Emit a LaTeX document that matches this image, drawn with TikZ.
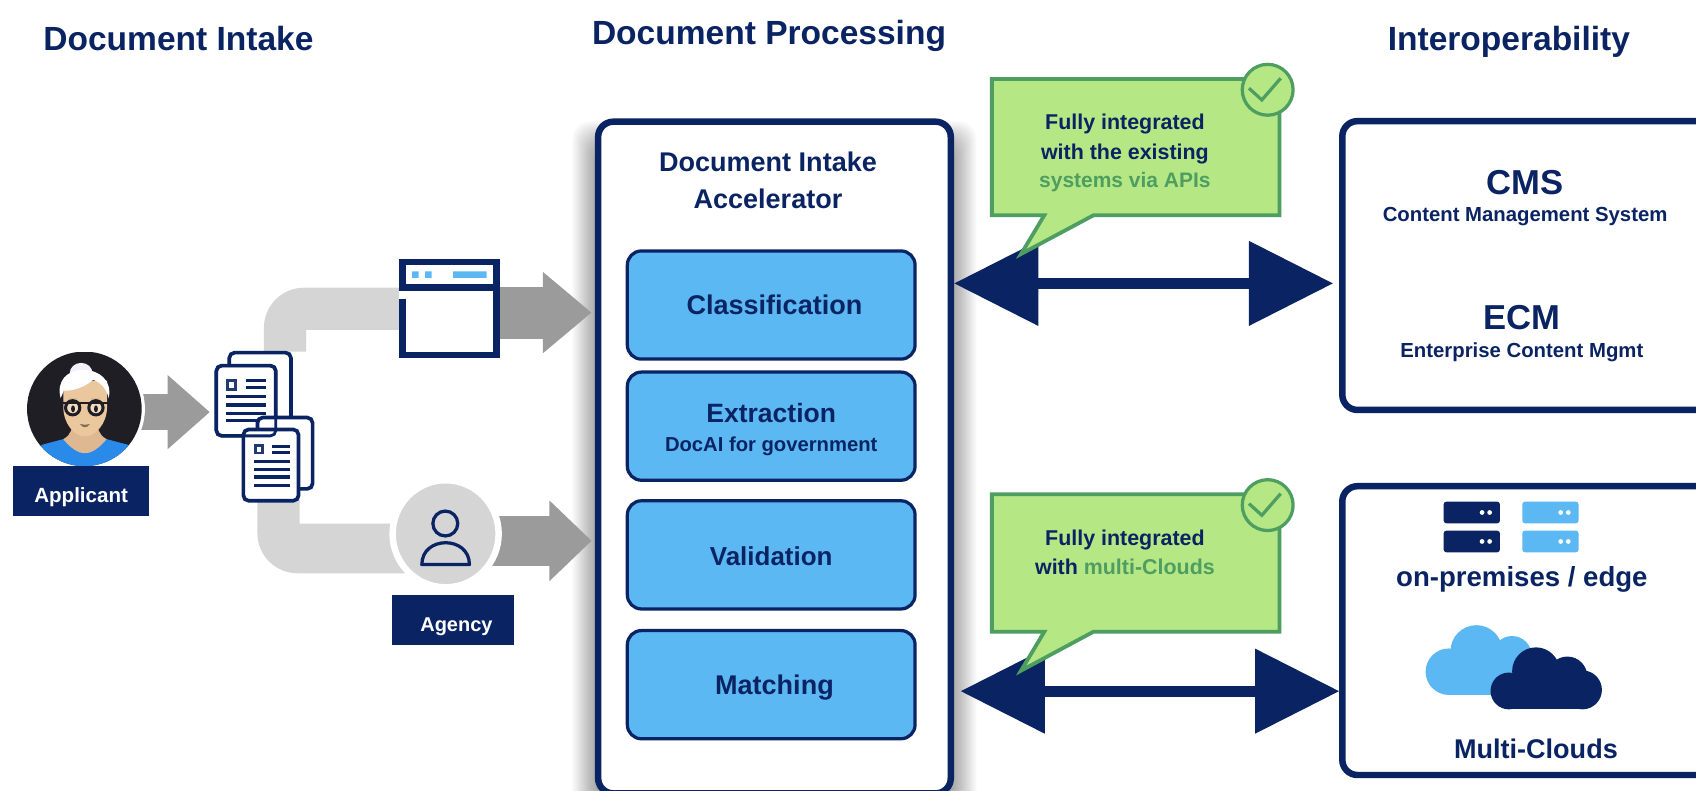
\documentclass[tikz,border=0pt]{standalone}
\usepackage{fontspec}
\setmainfont{Liberation Sans}[BoldFont={Liberation Sans Bold}]
\usetikzlibrary{arrows.meta}
\definecolor{navy}{HTML}{0A2463}
\definecolor{skyb}{HTML}{5BB8F2}
\definecolor{roadg}{HTML}{D5D5D5}
\definecolor{arrowg}{HTML}{9B9B9B}
\definecolor{lime}{HTML}{B5E784}
\definecolor{leaf}{HTML}{4E9E62}
\definecolor{inkdark}{HTML}{1E1E24}
\definecolor{skin}{HTML}{EBC79E}
\definecolor{skindk}{HTML}{DDB890}
\definecolor{shirt}{HTML}{2A8AEA}
\newcommand{\fs}[1]{\fontsize{#1}{#1}\selectfont\bfseries}
\tikzset{
  head/.style={font=\fs{31},text=navy,inner sep=0pt,yshift=-3pt},
  txt/.style={text=navy,inner sep=0pt,align=center,yshift=-2pt},
  panelbox/.style={draw=navy,line width=6pt,rounded corners=14pt,fill=white,minimum width=#1,inner sep=0pt},
  stepbox/.style={draw=navy,line width=3pt,rounded corners=13pt,fill=skyb,minimum width=266pt,minimum height=100pt,inner sep=0pt},
  tag/.style={fill=navy,inner sep=0pt},
  tagtext/.style={text=white,inner sep=0pt,yshift=-2pt},
  fatarrow/.style={draw=navy,line width=10pt,{Triangle[length=78pt,width=76pt,fill=navy]}-{Triangle[length=78pt,width=76pt,fill=navy]}},
  grayarrow/.style n args={3}{draw=arrowg,line width=#1,-{Triangle[length=#2,width=#3,fill=arrowg]}},
  road/.style={fill=roadg},
  callout/.style={draw=leaf,fill=lime,line width=3.5pt,line join=miter},
  tick/.style={draw=leaf,fill=lime,line width=3pt},
  page/.style={draw=navy,fill=white,line width=3.4pt,rounded corners=5pt},
  pageline/.style={draw=navy,line width=3pt},
  greentext/.style={text=leaf},
}
\begin{document}
\begin{tikzpicture}[x=1pt,y=-1pt]
\clip (0,0) rectangle (1568,730.4);
\fill[white] (0,0) rectangle (1568,730.4);
% headings
\node[head] (h1) at (165,33) {Document Intake};
\node[head] (h2) at (711,30) {Document Processing};
\node[head] (h3) at (1395,36) {Interoperability};
% panel shadow
\foreach \k in {1,...,24}{
  \fill[black,opacity=0.017,rounded corners=16pt] (553-\k,136-\k) rectangle (879+\k,770);
}
% centre panel
\node[panelbox=326pt,minimum height=621pt] (panel) at (716,423) {};
\node[txt,font=\fs{25}] (ptitlea) at (710,148) {Document Intake};
\node[txt,font=\fs{25}] (ptitleb) at (710,182) {Accelerator};
\node[stepbox] (b1) at (713,282) {};
\node[stepbox] (b2) at (713,394) {};
\node[stepbox] (b3) at (713,513) {};
\node[stepbox] (b4) at (713,633) {};
\node[txt,font=\fs{25}] (t1) at (716,280) {Classification};
\node[txt,font=\fs{24.5}] (t2) at (713,380) {Extraction};
\node[txt,font=\fs{18.7}] (t2b) at (713,411) {DocAI for government};
\node[txt,font=\fs{24}] (t3) at (713,512) {Validation};
\node[txt,font=\fs{25}] (t4) at (716,634) {Matching};
% roads
\path[road] (244,340) [rounded corners=37pt] -- (244,266) [sharp corners] -- (369,266) -- (369,305) -- (283,305) -- (283,325) -- (265,325) -- (265,340) -- cycle;
\path[road] (238,450) [rounded corners=37pt] -- (238,530) [sharp corners] -- (375,530) -- (375,484) -- (277,484) -- (277,450) -- cycle;
% gray arrows
\coordinate (g1a) at (125,381); \coordinate (g1b) at (194,381);
\coordinate (g2a) at (455,289); \coordinate (g2b) at (547,289);
\coordinate (g3a) at (450,500); \coordinate (g3b) at (547,500);
\draw[grayarrow={34pt}{39pt}{66pt}] (g1a) -- (g1b);
\draw[grayarrow={48pt}{45pt}{72pt}] (g2a) -- (g2b);
\draw[grayarrow={46pt}{39pt}{72pt}] (g3a) -- (g3b);
% window icon
\fill[white] (369,239) rectangle (462,331);
\fill[navy] (369,263) rectangle (462,269);
\draw[navy,line width=6pt] (372,276) -- (372,328) -- (459,328) -- (459,242) -- (372,242) -- (372,266);
\fill[skyb] (381,251) rectangle (387,257) (393,251) rectangle (399,257) (419,251) rectangle (450,257);
% documents
\draw[page] (212,326) rectangle (269,395);
\draw[page] (200,338) rectangle (255,403);
\fill[navy!90] (209,350) rectangle (219,361.5); \fill[white] (212,353) rectangle (216,358.5);
\draw[pageline] (227,352) -- (246,352) (227,358) -- (246,358) (209,366.7) -- (246,366.7) (209,374.4) -- (246,374.4) (209,382) -- (246,382) (209,389) -- (246,389);
\draw[page] (238,386) rectangle (289,452);
\draw[page] (225,397) rectangle (276,463);
\fill[navy!90] (235,410.7) rectangle (244,420); \fill[white] (237.5,413) rectangle (241.5,417.5);
\draw[pageline] (251.5,413) -- (268,413) (251.5,418.5) -- (268,418.5) (235,427) -- (268,427) (235,434) -- (268,434) (235,441) -- (268,441) (235,449) -- (268,449);
\draw[navy,line width=2.6pt,rounded corners=5pt] (200,338) rectangle (255,403);
% avatar
\draw[white,line width=6pt,fill=inkdark] (78,378) circle[radius=53pt];
\begin{scope}
\clip (78,378) circle[radius=53pt];
\fill[inkdark] (25,325) rectangle (131,431);
\fill[shirt] (38.5,411.3) -- (58.5,406) -- (98.6,406) -- (118.6,411.3) -- (128,435) -- (28,435) -- cycle;
\fill[skindk] (58.5,406) .. controls (66,402) and (67,396) .. (67,388) -- (90,388) .. controls (90,396) and (91,402) .. (98.6,406) .. controls (92,414) and (85,419) .. (78.5,419) .. controls (72,419) and (65,414) .. (58.5,406) -- cycle;
\fill[skin] (58.5,352) -- (99,352) -- (99,376) .. controls (99,392) and (88,403.5) .. (78.5,403.5) .. controls (69,403.5) and (58.5,392) .. (58.5,376) -- cycle;
\fill[black!12!blue!6!white] (75,345) ellipse[x radius=10.5pt,y radius=9.5pt];
\fill[white] (56,368) .. controls (52,352) and (62,342) .. (77,342) .. controls (92,342) and (104,352) .. (100.5,368) .. controls (99,361) and (94,354) .. (86,351) .. controls (79,358) and (66,362) .. (59,361) .. controls (58,364) and (57,366) .. (56,368) -- cycle;
\draw[skindk,line width=1pt] (64,368.5) -- (72,368.5) (84,368.5) -- (92,368.5);
\draw[inkdark,line width=2.8pt,fill=skin!65!white] (67.2,377) circle[radius=6.6pt] (88.7,377) circle[radius=6.6pt];
\draw[inkdark,line width=2.6pt] (57,372.5) -- (99.5,372.5);
\fill[inkdark] (67.5,378) ellipse[x radius=1.8pt,y radius=3.2pt] (88.7,378) ellipse[x radius=1.8pt,y radius=3.2pt];
\fill[black!45!skin] (74,392) .. controls (77,393) and (80,393) .. (83,392) .. controls (81,396) and (76,396) .. (74,392) -- cycle;
\end{scope}
\node[tag,minimum width=126pt,minimum height=46pt] (applicant) at (75,454) {};
\node[tagtext,font=\fs{19}] (applicantt) at (75,458) {Applicant};
% agency
\draw[white,line width=6pt,fill=roadg] (412,493.5) ellipse[x radius=49pt,y radius=49.5pt];
\draw[navy,line width=3pt] (411.7,484) circle[radius=11.5pt];
\draw[navy,line width=3pt,line join=round] (390,522) .. controls (390,495) and (434,495) .. (434,522) -- cycle;
\node[tag,minimum width=113pt,minimum height=46pt] (agency) at (418.5,573) {};
\node[tagtext,font=\fs{18.5}] (agencyt) at (422,577) {Agency};
% right boxes
\node[panelbox=360pt,minimum height=267pt] (top) at (1421,245.5) {};
\node[panelbox=360pt,minimum height=267pt] (bot) at (1421,583) {};
\node[txt,font=\fs{32}] (cms) at (1410,167) {CMS};
\node[txt,font=\fs{18.8}] (cmsb) at (1410,198) {Content Management System};
\node[txt,font=\fs{32}] (ecm) at (1407,292) {ECM};
\node[txt,font=\fs{18.8}] (ecmb) at (1407,324) {Enterprise Content Mgmt};
\node[txt,font=\fs{25.5}] (onp) at (1407,534) {on-premises / edge};
\node[txt,font=\fs{25}] (multi) at (1420,690) {Multi-Clouds};
% servers
\foreach \sx/\sc in {1334.7/navy,1407.4/skyb}{
 \foreach \sy in {463.8,490.6}{
  \fill[\sc,rounded corners=2.5pt] (\sx,\sy) rectangle ++(52,20);
  \fill[white] (\sx+35.5,\sy+10) circle[radius=2.2pt] (\sx+42.5,\sy+10) circle[radius=2.2pt];
 }}
% clouds
\fill[skyb] (1339.5,621) circle[radius=21.5pt] (1365,602) circle[radius=24pt] (1398,606) circle[radius=18pt];
\fill[skyb] (1339.5,604) rectangle (1412,642.5);
\fill[navy] (1395,638.8) circle[radius=17pt] (1420,620.5) circle[radius=22pt] (1449,625.5) circle[radius=18.5pt] (1463,637.8) circle[radius=18pt];
\fill[navy] (1395,628) rectangle (1463,655.8);
% double arrows
\coordinate (a1l) at (882,262); \coordinate (a1r) at (1232.6,262);
\coordinate (a2l) at (888,639); \coordinate (a2r) at (1238.3,639);
\draw[fatarrow] (a1l) -- (a1r);
\draw[fatarrow] (a2l) -- (a2r);
% callouts
\draw[callout] (917,73) -- (1183,73) -- (1183,199) -- (1011,199) -- (944,234.8) -- (965.5,199) -- (917,199) -- cycle;
\draw[callout] (917,457) -- (1183,457) -- (1183,584) -- (1011,584) -- (944,620) -- (965.5,584) -- (917,584) -- cycle;
\foreach \cy in {83,467}{
  \draw[tick] (1172,\cy) circle[radius=23.5pt];
  \draw[leaf,line width=3pt,line join=miter] (1154.7,\cy-1.4) -- (1166.6,\cy+9.4) -- (1184,\cy-10.6);
}
\node[txt,font=\fs{19.8}] (c1a) at (1040,113) {Fully integrated};
\node[txt,font=\fs{19.8}] (c1b) at (1040,140) {with the existing};
\node[txt,font=\fs{19.4},greentext] (c1c) at (1040,166) {systems via APIs};
\node[txt,font=\fs{19.8}] (c2a) at (1040,497) {Fully integrated};
\node[txt,font=\fs{19.8}] (c2b) at (1040,522) {with \textcolor{leaf}{multi-Clouds}};
\end{tikzpicture}
\end{document}
